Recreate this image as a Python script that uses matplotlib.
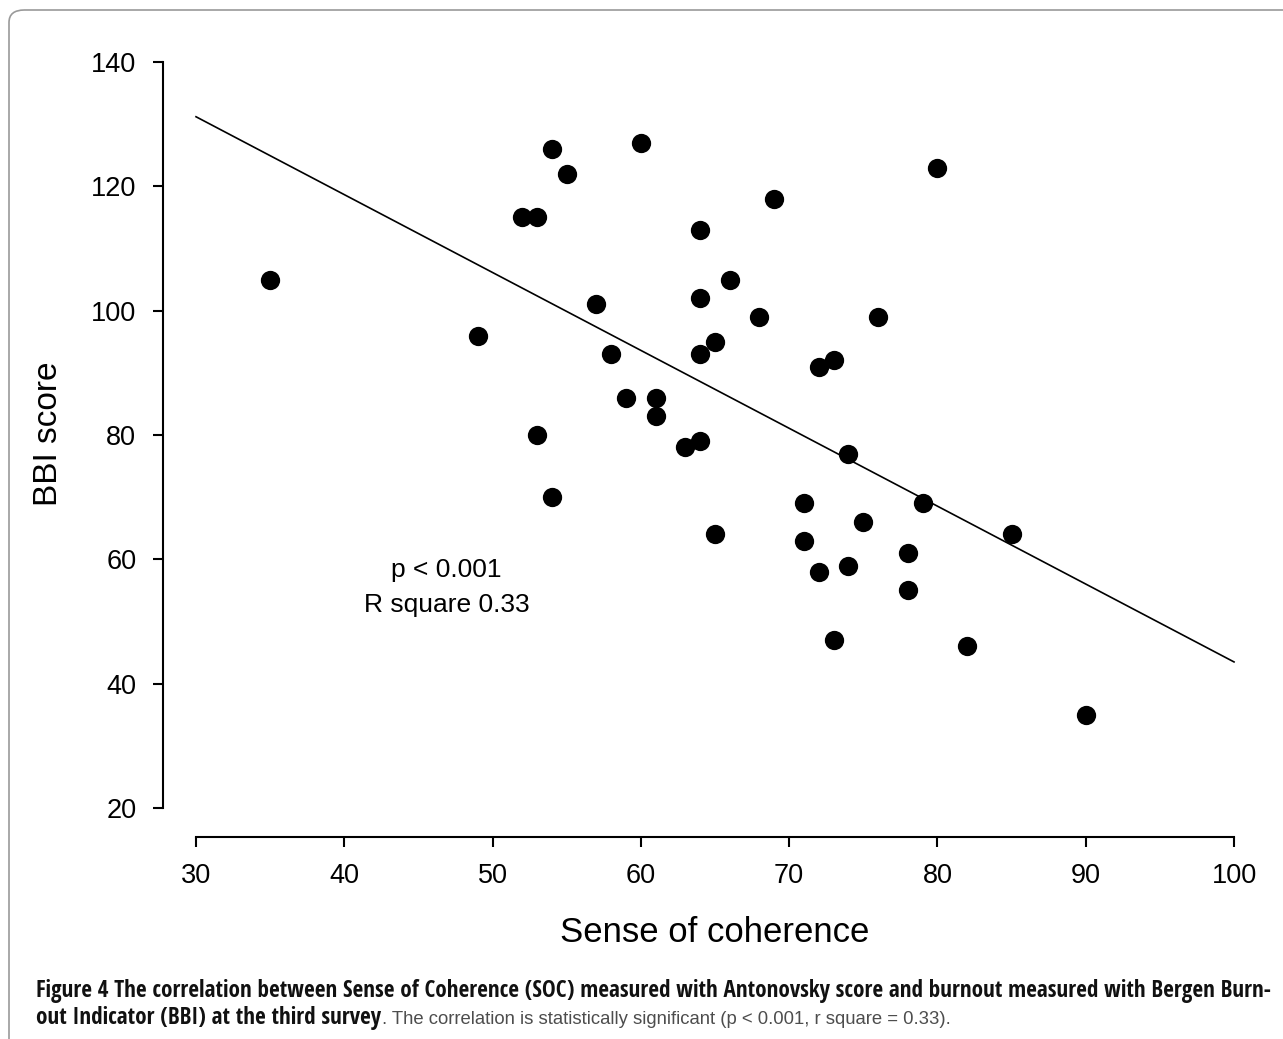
import matplotlib
matplotlib.use("Agg")
import matplotlib.pyplot as plt
from matplotlib import font_manager
from matplotlib.patches import FancyBboxPatch

# Sense of coherence (x) vs BBI score (y)
soc = [35, 49, 52, 53, 53, 54, 54, 55, 57, 58, 59, 60, 61, 61, 63,
       64, 64, 64, 64, 65, 65, 66, 68, 69, 71, 71, 72, 72, 73, 73,
       74, 74, 75, 76, 78, 78, 79, 80, 82, 85, 90]
bbi = [105, 96, 115, 115, 80, 126, 70, 122, 101, 93, 86, 127, 86, 83, 78,
       113, 102, 93, 79, 95, 64, 105, 99, 118, 69, 63, 91, 58, 92, 47,
       77, 59, 66, 99, 61, 55, 69, 123, 46, 64, 35]

# regression line end points
fit_x = [30, 100]
fit_y = [131.2, 43.5]

x_ticks = [30, 40, 50, 60, 70, 80, 90, 100]
y_ticks = [20, 40, 60, 80, 100, 120, 140]

plt.rcParams['font.family'] = ['Liberation Sans', 'DejaVu Sans']

W, H = 1283, 1039
fig = plt.figure(figsize=(W / 100, H / 100), dpi=100)

# axes placed in pixel terms
left, right, top, bottom = 163, 1241, 56, 837
ax = fig.add_axes([left / W, (H - bottom) / H, (right - left) / W, (bottom - top) / H])
ax.set_xlim(27.775, 100.47)
ax.set_ylim(15.34, 140.97)
ax.patch.set_alpha(0)

ax.plot(fit_x, fit_y, color='black', lw=1.2)
ax.plot(soc, bbi, 'o', color='black', markersize=13.9, markeredgewidth=0)

for s in ['top', 'right']:
    ax.spines[s].set_visible(False)
ax.spines['left'].set_bounds(20, 140)
ax.spines['bottom'].set_bounds(30, 100)
for s in ['left', 'bottom']:
    ax.spines[s].set_linewidth(1.5)
ax.set_xticks(x_ticks)
ax.set_yticks(y_ticks)
ax.tick_params(direction='out', length=7.2, width=1.5, labelsize=19.5)
ax.tick_params(axis='x', pad=11.5)
ax.tick_params(axis='y', pad=12)

ax.text(46.9, 57.2, 'p < 0.001', fontsize=19, ha='center', va='baseline')
ax.text(46.9, 51.5, 'R square 0.33', fontsize=19, ha='center', va='baseline')

fig.text(715 / W, 1 - 942 / H, 'Sense of coherence', fontsize=25, ha='center', va='baseline')
fig.text(49 / W, 1 - 434 / H, 'BBI score', fontsize=24, rotation=90, ha='center', va='center')

# frame around the figure panel
frame = FancyBboxPatch((9 / W, -0.1), 1.2, 1.1 - 10 / H,
                       boxstyle='round,pad=0,rounding_size=0.012',
                       transform=fig.transFigure, fill=False,
                       edgecolor='#9a9a9a', lw=1.2)
fig.patches.append(frame)

# caption: prefer a narrow sans face if one is installed (bold part)
names = {f.name for f in font_manager.fontManager.ttflist}
cap_font = 'Liberation Sans'
for cand in ['Liberation Sans Narrow', 'Open Sans Condensed', 'Roboto Condensed',
             'Noto Sans Condensed', 'DejaVu Sans Condensed']:
    if cand in names:
        cap_font = cand
        break

line1 = ('Figure 4 The correlation between Sense of Coherence (SOC) measured with '
         'Antonovsky score and burnout measured with Bergen Burn-')
line2b = 'out Indicator (BBI) at the third survey'
line2n = '. The correlation is statistically significant (p < 0.001, r square = 0.33).'

x0 = 36
renderer = fig.canvas.get_renderer()
t1 = fig.text(x0 / W, 1 - 997 / H, line1, fontsize=14, fontweight='bold',
              family=cap_font, va='baseline', color='#111111')
w = t1.get_window_extent(renderer).width
cap_fs = 14 * 1238 / w
t1.set_fontsize(cap_fs)
t2 = fig.text(x0 / W, 1 - 1024 / H, line2b, fontsize=cap_fs, fontweight='bold',
              family=cap_font, va='baseline', color='#111111')
w2 = t2.get_window_extent(renderer).width
# plain part in a regular face, sized to end where the reference ends
t3 = fig.text((x0 + w2 + 1) / W, 1 - 1024 / H, line2n, fontsize=14,
              family='Liberation Sans', va='baseline', color='#4d4d4d')
w3 = t3.get_window_extent(renderer).width
t3.set_fontsize(14 * (954 - x0 - w2 - 1) / w3)

fig.savefig('out.png', dpi=100)
